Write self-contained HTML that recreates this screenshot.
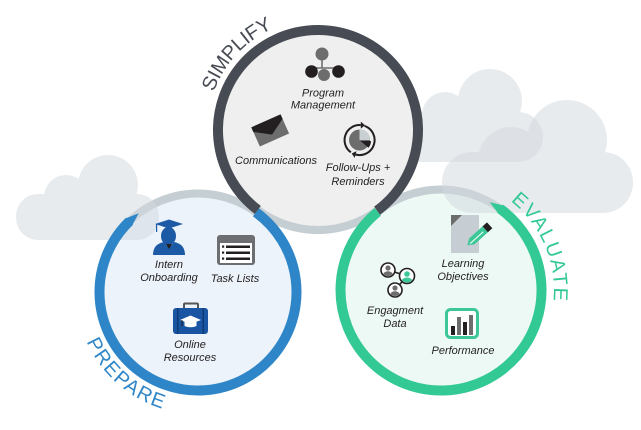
<!DOCTYPE html>
<html><head><meta charset="utf-8"><style>
html,body{margin:0;padding:0;background:#fff;}
svg{display:block;}
.lbl{font-family:"Liberation Sans",sans-serif;font-style:italic;font-size:11px;fill:#231f20;text-anchor:middle;}
.arc{font-family:"Liberation Sans",sans-serif;font-size:20px;}
</style></head><body>
<svg width="641" height="430" viewBox="0 0 641 430" xmlns="http://www.w3.org/2000/svg">
<defs>
<path id="pS" d="M 213.7 92 A 111 111 0 0 1 298.7 20.7"/>
<path id="pP" d="M 86.6 341.6 A 122 122 0 0 0 187.4 413.5"/>
<path id="pE" d="M 510.6 201 A 113 113 0 0 1 550.1 319.2"/>
<clipPath id="c1"><circle cx="388" cy="270" r="6"/></clipPath>
<clipPath id="c2"><circle cx="407" cy="276" r="6.5"/></clipPath>
<clipPath id="c3"><circle cx="395" cy="290" r="6"/></clipPath>
</defs>
<rect width="641" height="430" fill="#fff"/>

<circle cx="198" cy="292" r="98.5" fill="#ecf3fa" stroke="#c5ced3" stroke-width="8"/>
<circle cx="441" cy="290" r="100.5" fill="#edf9f5" stroke="#c5ced3" stroke-width="8"/>

<g opacity="0.5" fill="#d3d9df">
<rect x="388" y="112" width="155" height="50" rx="25"/>
<circle cx="445" cy="115" r="23"/>
<circle cx="490" cy="101" r="32"/>
</g>
<g opacity="0.5" fill="#d3d9df">
<rect x="442" y="152" width="191" height="61" rx="30"/>
<circle cx="511" cy="160" r="33"/>
<circle cx="567" cy="140" r="40"/>
</g>
<g opacity="0.5" fill="#d3d9df">
<rect x="16" y="194" width="143" height="46" rx="22"/>
<circle cx="66" cy="197" r="22"/>
<circle cx="108" cy="185" r="30"/>
</g>

<circle cx="318" cy="130" r="100" fill="#efefef" stroke="#c5ced3" stroke-width="8"/>

<path d="M 255.9 212.3 A 98.5 98.5 0 1 1 129.6 221.1" fill="none" stroke="#2e86c8" stroke-width="10"/>
<polygon points="124.8,218.8 131.9,225.9 138.7,213.3" fill="#2e86c8"/>
<path d="M 500.1 208.7 A 100.5 100.5 0 1 1 377.8 211.9" fill="none" stroke="#33c995" stroke-width="10"/>
<polygon points="504.5,205.7 498.5,213.7 489.7,202.1" fill="#33c995"/>
<path d="M 257.8 209.9 A 100 100 0 1 1 377.1 210.7" fill="none" stroke="#474b53" stroke-width="10"/>

<text class="arc" fill="#474b53"><textPath href="#pS" textLength="89" lengthAdjust="spacing">SIMPLIFY</textPath></text>
<text class="arc" fill="#2e86c8"><textPath href="#pP" textLength="104" lengthAdjust="spacing">PREPARE</textPath></text>
<text class="arc" fill="#33c995"><textPath href="#pE" textLength="113" lengthAdjust="spacing">EVALUATE</textPath></text>

<g stroke="#6d6d6d" stroke-width="1.6">
<line x1="322" y1="58" x2="322" y2="68"/>
<line x1="311.5" y1="68" x2="338.5" y2="68"/>
</g>
<circle cx="322" cy="54" r="6.5" fill="#6d6d6d"/>
<circle cx="311.5" cy="71.5" r="6.3" fill="#231f20"/>
<circle cx="338.5" cy="71.5" r="6.3" fill="#231f20"/>
<circle cx="324" cy="75" r="6" fill="#6d6d6d"/>
<text class="lbl" x="323" y="96.5">Program</text>
<text class="lbl" x="323" y="108.5">Management</text>

<g transform="translate(270,130) rotate(-24)">
<rect x="-16" y="-10" width="32" height="21" fill="#6d6d6d"/>
<polygon points="-16,-10 16,-10 16,-5 0,5 -16,-5" fill="#231f20"/>
</g>
<text class="lbl" x="276" y="164">Communications</text>

<circle cx="359.5" cy="140" r="10.5" fill="#6d6d6d"/>
<path d="M359.5 140 L359.5 129.5 A10.5 10.5 0 0 1 370 140 Z" fill="#c8d0d4"/>
<path d="M360.5 141 L371 141 A10.5 10.5 0 0 1 368.5 147.7 Z" fill="#231f20"/>
<g fill="none" stroke="#231f20" stroke-width="2">
<path d="M364.6 125.9 A15 15 0 0 1 355.6 154.5"/>
<path d="M350.9 152.3 A15 15 0 0 1 360.8 125.1"/>
</g>
<polygon points="360.8,121.6 360.8,128.6 365,125.3" fill="#231f20"/>
<polygon points="354.7,157.9 356.5,151.1 351.7,153.5" fill="#231f20"/>
<text class="lbl" x="358" y="171">Follow-Ups +</text>
<text class="lbl" x="358" y="185">Reminders</text>

<g fill="#1d5aa6">
<ellipse cx="168.5" cy="236" rx="7.5" ry="9"/>
<path d="M153 255 Q153 244 164 242 L169 248 L174 242 Q185 244 185 255 Z"/>
<polygon points="155,224 169,219.5 183,224 169,228.5"/>
<rect x="156" y="224" width="1.2" height="8"/>
</g>
<polygon points="166,244 172,244 169,249" fill="#231f20"/>
<text class="lbl" x="169" y="268">Intern</text>
<text class="lbl" x="169" y="281">Onboarding</text>

<rect x="217" y="235" width="38" height="30" rx="3" fill="#6d6e71"/>
<rect x="220" y="243" width="32" height="20" fill="#fff"/>
<g fill="#231f20">
<rect x="222" y="245.5" width="2.2" height="2.2"/><rect x="226" y="245.5" width="24" height="2.5"/>
<rect x="222" y="251.5" width="2.2" height="2.2"/><rect x="226" y="251.5" width="24" height="2.5"/>
<rect x="222" y="257.5" width="2.2" height="2.2"/><rect x="226" y="257.5" width="24" height="2.5"/>
</g>
<text class="lbl" x="235" y="282">Task Lists</text>

<rect x="184" y="303.5" width="14" height="7" rx="1" fill="none" stroke="#555" stroke-width="2"/>
<rect x="173" y="308" width="35" height="26" rx="3" fill="#1a55a3"/>
<rect x="177" y="308" width="1.5" height="26" fill="#0e3a76"/>
<rect x="202.5" y="308" width="1.5" height="26" fill="#0e3a76"/>
<polygon points="180,320 190.5,315.5 201,320 190.5,324" fill="#fff"/>
<path d="M184.5 321.5 L184.5 326 Q190.5 328.5 196.5 326 L196.5 321.5 L190.5 324 Z" fill="#fff"/>
<rect x="181.5" y="320" width="1" height="6" fill="#231f20"/>
<text class="lbl" x="190" y="348">Online</text>
<text class="lbl" x="190" y="361">Resources</text>

<rect x="451" y="215" width="28" height="38" fill="#c6ced3"/>
<polygon points="451,215 462,215 451,226" fill="#6d6d6d"/>
<g transform="translate(480,234) rotate(-42)">
<rect x="-11" y="-4" width="18" height="8" fill="#3cc796"/>
<polygon points="-11,-4 -17,0 -11,4" fill="#3cc796"/>
<rect x="7" y="-4" width="6" height="8" fill="#231f20"/>
<line x1="-14" y1="0.5" x2="4" y2="0.5" stroke="#fff" stroke-width="1"/>
</g>
<text class="lbl" x="463" y="267">Learning</text>
<text class="lbl" x="463" y="280">Objectives</text>

<g stroke="#231f20" stroke-width="1.6">
<line x1="388" y1="270" x2="407" y2="276"/>
<line x1="407" y1="276" x2="395" y2="290"/>
</g>
<circle cx="388" cy="270" r="7" fill="#fff" stroke="#231f20" stroke-width="1.6"/>
<circle cx="407" cy="276" r="7.5" fill="#fff" stroke="#231f20" stroke-width="1.6"/>
<circle cx="395" cy="290" r="7" fill="#fff" stroke="#231f20" stroke-width="1.6"/>
<g clip-path="url(#c1)" fill="#6d6d6d"><circle cx="388" cy="268" r="2.6"/><ellipse cx="388" cy="275" rx="5" ry="3.8"/></g>
<g clip-path="url(#c2)" fill="#3cc796"><circle cx="407" cy="274" r="2.8"/><ellipse cx="407" cy="281.5" rx="5.5" ry="4"/></g>
<g clip-path="url(#c3)" fill="#6d6d6d"><circle cx="395" cy="288" r="2.6"/><ellipse cx="395" cy="295" rx="5" ry="3.8"/></g>
<text class="lbl" x="395" y="314">Engagment</text>
<text class="lbl" x="395" y="327">Data</text>

<rect x="446.5" y="309.5" width="31" height="28" rx="4" fill="#fff" stroke="#3cc796" stroke-width="3"/>
<rect x="451" y="326" width="4" height="9" fill="#231f20"/>
<rect x="457" y="317" width="4" height="18" fill="#6d6d6d"/>
<rect x="463" y="322" width="4" height="13" fill="#231f20"/>
<rect x="469" y="315" width="4" height="20" fill="#6d6d6d"/>
<text class="lbl" x="463" y="354">Performance</text>
</svg>
</body></html>
